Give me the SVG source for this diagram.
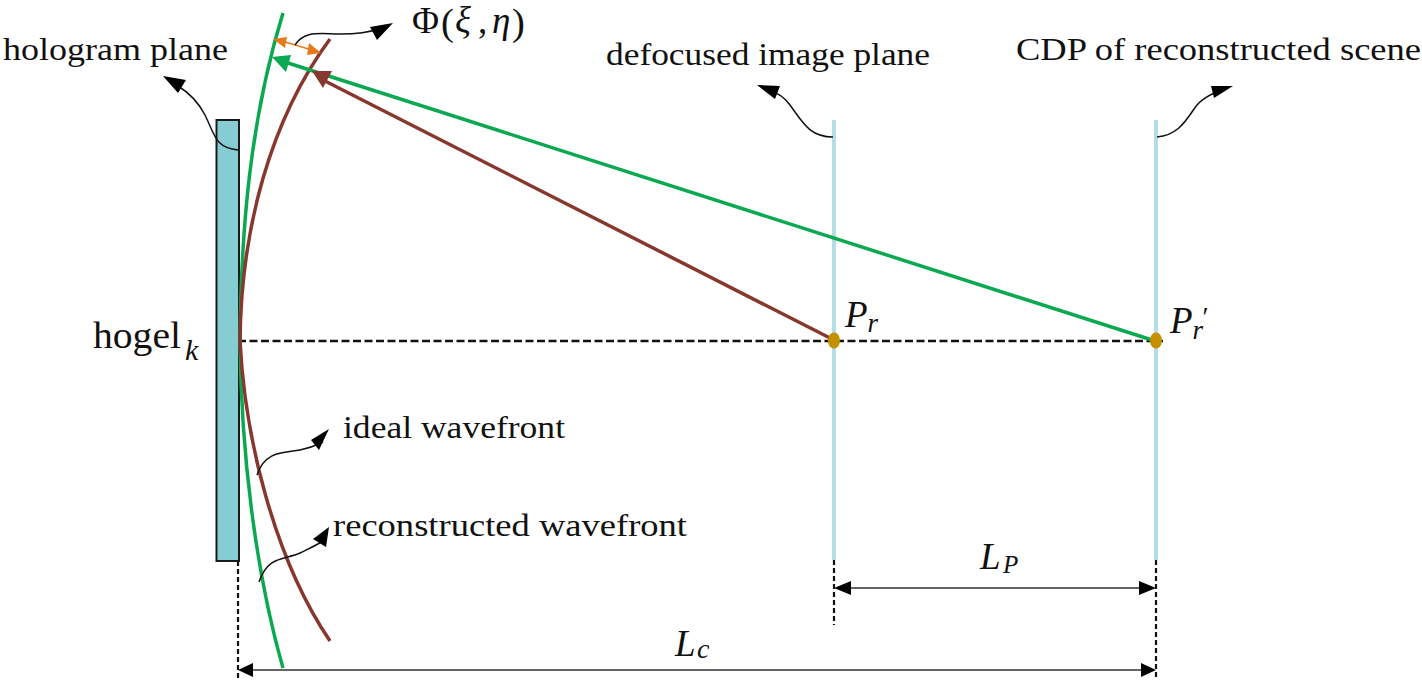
<svg xmlns="http://www.w3.org/2000/svg" width="1422" height="685" viewBox="0 0 1422 685">
<style>
text{font-family:"Liberation Serif","Times New Roman",serif;fill:#111}
.l{font-size:32px}
.m{font-family:"Liberation Serif",serif;font-style:italic}
.thin{fill:none;stroke:#111;stroke-width:1.5}
.dim{fill:none;stroke:#333;stroke-width:1.5}
.dash{fill:none;stroke:#111;stroke-width:2.5;stroke-dasharray:8 3.500}
.vdash{fill:none;stroke:#111;stroke-width:2.200;stroke-dasharray:5 3}
.green{fill:none;stroke:#0aa850;stroke-width:3.500}
.brown{fill:none;stroke:#88372e;stroke-width:3.500}
.pl{stroke:#b5dde6;stroke-width:4;fill:none}
.dot{fill:#c49000}
.head{fill:#000}
.gh{fill:#0aa850}
.bh{fill:#88372e}
.oh{fill:#e57a1a}
</style>
<rect width="1422" height="685" fill="#fff"/>
<g id="hogel-plate"><rect x="216.500" y="120" width="22.500" height="441" fill="#85ccd3" stroke="#1a1a1a" stroke-width="2"/></g>
<g id="defocused-plane"><line class="pl" x1="834" y1="120" x2="834" y2="560"/></g>
<g id="cdp-plane"><line class="pl" x1="1156" y1="120" x2="1156" y2="560"/></g>
<g id="connectors">
<path class="dash" d="M238 341H1163"/>
<path class="green" d="M283 13C250 120 241 230 240 341C241 450 255 570 283 668"/>
<path class="brown" d="M330 39C270 120 241 230 240 341C245 440 275 560 330 641"/>
<line class="green" x1="1152" y1="340" x2="288" y2="63"/>
<path class="gh" d="M272 57L291 55L286 72Z"/>
<line class="brown" x1="830" y1="338" x2="325" y2="81"/>
<path class="bh" d="M312 71L332 71L323 88Z"/>
<line x1="285" y1="42" x2="312" y2="50" stroke="#e57a1a" stroke-width="1.500"/>
<path class="oh" d="M273 39L287 37L285 48ZM321 53L309 43L307 55Z"/>
<path class="thin" d="M295 45C305 30 320 34 340 34C355 34 368 33 378 29"/>
<path class="head" d="M393 23L370 27L377 40Z"/>
<path class="thin" d="M238 150C215 148 215 135 205 115C197 100 188 92 178 86"/>
<path class="head" d="M163 76L186 80L178 93Z"/>
<path class="thin" d="M833 137C810 137 803 123 790 105C784 97 778 93 772 92"/>
<path class="head" d="M757 85L780 86L775 99Z"/>
<path class="thin" d="M1157 137C1180 135 1187 118 1197 105C1202 99 1208 96 1214 93"/>
<path class="head" d="M1233 86L1211 86L1214 98Z"/>
<path class="thin" d="M257 475C265 450 285 453 300 450C310 448 315 446 323 442"/>
<path class="head" d="M329 429L311 440L319 450Z"/>
<path class="thin" d="M259 582C268 555 285 560 300 553C308 549 315 546 323 541"/>
<path class="head" d="M329 527L313 539L326 547Z"/>
<path class="vdash" d="M238 561V680M834 560V625M1156 560V680"/>
<path class="dim" d="M848 588H1142"/>
<path class="head" d="M834 588L851 581V595ZM1156 588L1139 581V595Z"/>
<path class="dim" d="M250 670H1144"/>
<path class="head" d="M238 670L253 663V677ZM1156 670L1141 663V677Z"/>
</g>
<g id="point-pr"><ellipse class="dot" cx="834" cy="340.500" rx="6" ry="8"/></g>
<g id="point-pr-prime"><ellipse class="dot" cx="1156" cy="340.500" rx="6" ry="8"/></g>
<g id="labels">
<text class="l" x="3" y="60" textLength="225" lengthAdjust="spacingAndGlyphs">hologram plane</text>
<text class="l" x="606" y="65" textLength="324" lengthAdjust="spacingAndGlyphs">defocused image plane</text>
<text class="l" x="1016" y="60" textLength="405" lengthAdjust="spacingAndGlyphs">CDP of reconstructed scene</text>
<text class="l" x="343" y="438" textLength="222" lengthAdjust="spacingAndGlyphs">ideal wavefront</text>
<text class="l" x="333" y="536" textLength="354" lengthAdjust="spacingAndGlyphs">reconstructed wavefront</text>
<text y="33" font-size="37"><tspan x="412">Φ</tspan><tspan x="441" y="34.500" font-size="38.500">(</tspan><tspan class="m" x="455" y="33">ξ</tspan><tspan x="478">,</tspan><tspan class="m" x="492">η</tspan><tspan x="512" y="34.500" font-size="38.500">)</tspan></text>
<text x="93" y="348" font-size="37" textLength="88" lengthAdjust="spacingAndGlyphs">hogel</text>
<text class="m" x="185" y="360" font-size="30">k</text>
<text class="m" x="845" y="327" font-size="37">P<tspan font-size="27" dy="5">r</tspan></text>
<text class="m" x="1170" y="333" font-size="37">P<tspan font-size="27" dy="6">r</tspan></text>
<text x="1202.500" y="326" font-size="28">′</text>
<text class="m" x="980" y="569" font-size="37">L<tspan font-size="25" x="1003" y="573">P</tspan></text>
<text class="m" x="675" y="656" font-size="37">L<tspan font-size="28" x="697" y="658">c</tspan></text>
</g>
</svg>
